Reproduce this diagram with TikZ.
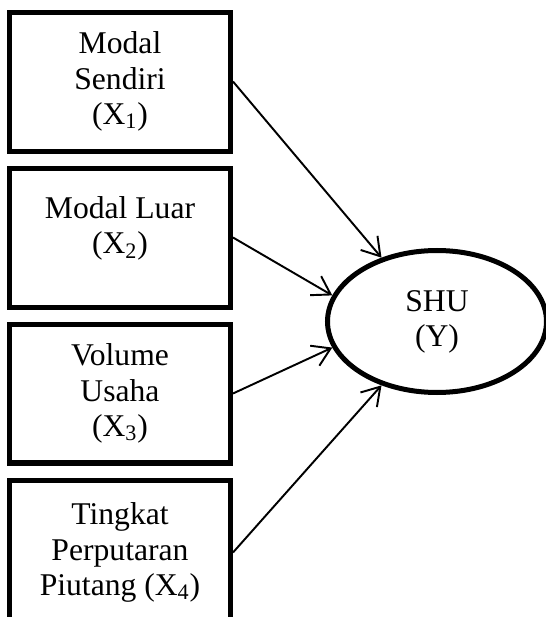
\documentclass[tikz,border=0pt]{standalone}
\usepackage{fontspec}
\setmainfont{Liberation Serif}
\usepackage{tikz}
\usetikzlibrary{arrows.meta,shapes.geometric,positioning}
\tikzstyle{varbox} = [draw, line width=0.1cm, minimum width=4.42cm, minimum height=2.78cm, align=center, font=\fontsize{18}{20}\selectfont]
\tikzstyle{target} = [draw, ellipse, line width=0.1cm, minimum width=4.38cm, minimum height=2.84cm, inner sep=0pt, align=center, font=\fontsize{18}{20}\selectfont]
\tikzstyle{arrow} = [line width=1.1pt,-{Straight Barb[length=3.5mm,width=4.4mm]}]

\begin{document}
\begin{tikzpicture}
\clip (0,0) rectangle (10.92,12.34);
% Independent variables
\node[varbox] (x1) at (2.4,10.71) {Modal\\Sendiri\\(X\textsubscript{1})};
\node[varbox] (x2) at (2.4,7.59) {Modal Luar\\(X\textsubscript{2})\\[-2.2mm]\mbox{}};
\node[varbox] (x3) at (2.4,4.47) {Volume\\Usaha\\(X\textsubscript{3})};
\node[varbox, minimum height=2.9cm] (x4) at (2.4,1.29) {Tingkat\\Perputaran\\Piutang (X\textsubscript{4})};

% Dependent variable
\node[target] (y) at (8.74,5.91) {SHU\\(Y)};

% Paths
\draw[arrow] (x1.east) -- (y.131);
\draw[arrow] (x2.east) -- (y.166);
\draw[arrow] (x3.east) -- (y.194);
\draw[arrow] (x4.east) -- (y.229);
\end{tikzpicture}
\end{document}
